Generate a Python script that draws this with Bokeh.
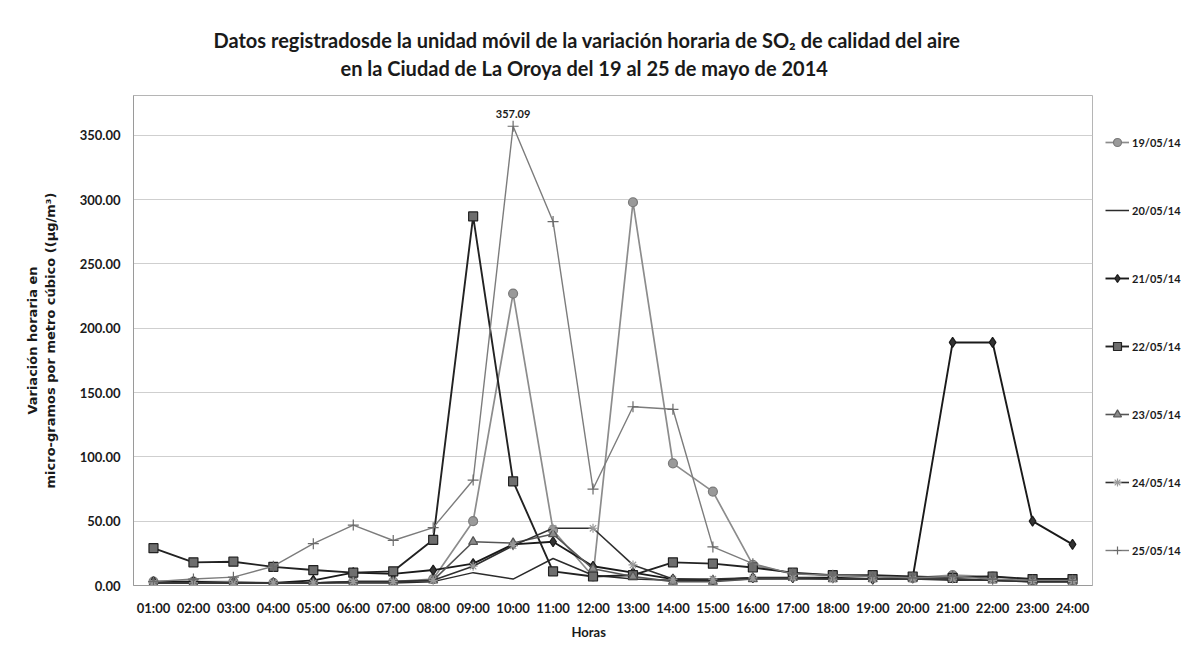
from bokeh.plotting import figure
from bokeh.models import (FactorRange, Range1d, FixedTicker, NumeralTickFormatter,
                          Legend, LegendItem, Title)
from bokeh.embed import file_html
from bokeh.resources import INLINE
from bokeh.core.properties import value

hours = ["01:00", "02:00", "03:00", "04:00", "05:00", "06:00", "07:00", "08:00",
         "09:00", "10:00", "11:00", "12:00", "13:00", "14:00", "15:00", "16:00",
         "17:00", "18:00", "19:00", "20:00", "21:00", "22:00", "23:00", "24:00"]

dates = ["19/05/14", "20/05/14", "21/05/14", "22/05/14", "23/05/14", "24/05/14", "25/05/14"]

s19 = [3, 3, 3, 2, 2, 3, 3, 5, 50, 227, 43, 7, 298, 95, 73, 16, 9, 8, 7, 6, 8, 7, 4, 5]
s20 = [2, 2, 2, 2, 2, 2, 2, 3, 10, 5, 21, 8, 5, 4, 4, 5, 5, 5, 5, 5, 4, 4, 3, 3]
s21 = [3, 3, 2, 2, 4, 10, 9, 12, 17, 32, 34, 15, 10, 5, 4, 6, 6, 6, 5, 6, 189, 189, 50, 32]
s22 = [29, 18, 18.5, 14.5, 12, 10, 11, 35.5, 287, 81, 11, 7, 8, 18, 17, 14, 10, 8, 8, 7, 6, 7, 5, 5]
s23 = [2, 2, 2, 2, 2, 3, 3, 4, 34, 33, 40, 13, 7, 3, 3, 5, 6, 5, 5, 5, 5, 4, 3, 3]
s24 = [2, 2, 2, 2, 2, 3, 3, 4, 15, 31, 44.5, 44.5, 16, 5, 5, 6, 6, 5, 5, 5, 5, 4, 3, 3]
s25 = [3, 5, 6.5, 15, 32.5, 47, 35, 45, 82, 357.09, 283, 75, 139, 137, 30, 17, 9, 8, 7, 6, 7, 5, 4, 4]

yticks = [0, 50, 100, 150, 200, 250, 300, 350]

title_lines = ["Datos registradosde la unidad móvil de la variación horaria de SO₂ de calidad del aire",
               "en la Ciudad de La Oroya del 19 al 25 de mayo de 2014"]
y_label = "Variación horaria en\nmicro-gramos por metro cúbico ((µg/m³)"
x_label = "Horas"

series = [s19, s20, s21, s22, s23, s24, s25]
styles = [
    dict(color="#8c8c8c", width=1.7, marker="circle", size=9, fill="#9a9a9a", mline="#7a7a7a"),
    dict(color="#2b2b2b", width=1.5, marker=None),
    dict(color="#1a1a1a", width=1.9, marker="diamond", size=10, fill="#333333", mline="#1a1a1a"),
    dict(color="#222222", width=1.9, marker="square", size=9, fill="#6e6e6e", mline="#222222"),
    dict(color="#555555", width=1.6, marker="triangle", size=9, fill="#8a8a8a", mline="#555555"),
    dict(color="#303030", width=1.6, marker="asterisk", size=9, fill="#9a9a9a", mline="#9a9a9a"),
    dict(color="#7c7c7c", width=1.4, marker="cross", size=11, fill="#7c7c7c", mline="#6a6a6a"),
]

FONT = "Lato"

p = figure(frame_width=959, frame_height=490, x_range=FactorRange(*hours), y_range=Range1d(0, 381),
           output_backend="svg", toolbar_location=None, title=None)
p.min_border_left = 133
p.min_border_right = 95
p.min_border_top = 95
p.min_border_bottom = 67

p.xgrid.visible = False
p.ygrid.grid_line_color = "#cfcfcf"
p.ygrid.grid_line_width = 1
p.outline_line_color = "#b5b5b5"
p.background_fill_color = "white"
p.border_fill_color = "white"

p.yaxis.ticker = FixedTicker(ticks=yticks)
p.yaxis.formatter = NumeralTickFormatter(format="0.00")
for ax in (p.xaxis[0], p.yaxis[0]):
    ax.major_tick_line_color = None
    ax.minor_tick_line_color = None
    ax.axis_line_color = "#9a9a9a"
    ax.major_label_text_font = FONT
    ax.major_label_text_font_style = "bold"
    ax.major_label_text_font_size = "13px"
    ax.major_label_text_color = "#1a1a1a"
p.yaxis.major_label_standoff = 7
p.xaxis.major_label_standoff = 8

p.yaxis.axis_label = y_label
p.yaxis.axis_label_text_font = "DejaVu Sans"
p.yaxis.axis_label_text_font_style = "bold"
p.yaxis.axis_label_text_font_size = "13px"
p.yaxis.axis_label_text_color = "#1a1a1a"
p.yaxis.axis_label_standoff = 19

items = []
for name, vals, st in zip(dates, series, styles):
    rs = [p.line(x=hours, y=vals, line_color=st["color"], line_width=st["width"])]
    if st["marker"]:
        rs.append(p.scatter(x=hours, y=vals, marker=st["marker"], size=st["size"],
                            fill_color=st["fill"], line_color=st["mline"], line_width=1.2))
    items.append(LegendItem(label=name, renderers=rs))

legend = Legend(items=items, location="top_left", glyph_width=24, glyph_height=20,
                label_height=20, spacing=48, padding=0, margin=13, label_standoff=3,
                border_line_color=None, background_fill_alpha=0,
                title=" ", title_text_font_size="10px", title_standoff=13,
                label_text_font=FONT, label_text_font_style="bold",
                label_text_font_size="11px", label_text_color="#1a1a1a")
p.add_layout(legend, "right")

peak_i = s25.index(max(s25))
p.text(x=[hours[peak_i]], y=[s25[peak_i]], text=[f"{s25[peak_i]:.2f}"],
       text_align="center", text_baseline="bottom", y_offset=-8,
       text_font=value(FONT), text_font_style="bold", text_font_size="11px",
       text_color="#1a1a1a")

# spacer between frame and second title line
p.add_layout(Title(text=" ", text_font_size="1px", standoff=12), "above")
offsets = [80, 207]
for i in (1, 0):
    p.add_layout(Title(text=title_lines[i], align="left", offset=offsets[i],
                       standoff=2, text_font=FONT, text_font_style="bold",
                       text_font_size="20px", text_color="#1a1a1a"), "above")

p.add_layout(Title(text=x_label, align="left", offset=438, vertical_align="top",
                   standoff=10, text_font=FONT, text_font_style="bold",
                   text_font_size="13px", text_color="#1a1a1a"), "below")

open("out.html", "w").write(file_html(p, INLINE))
